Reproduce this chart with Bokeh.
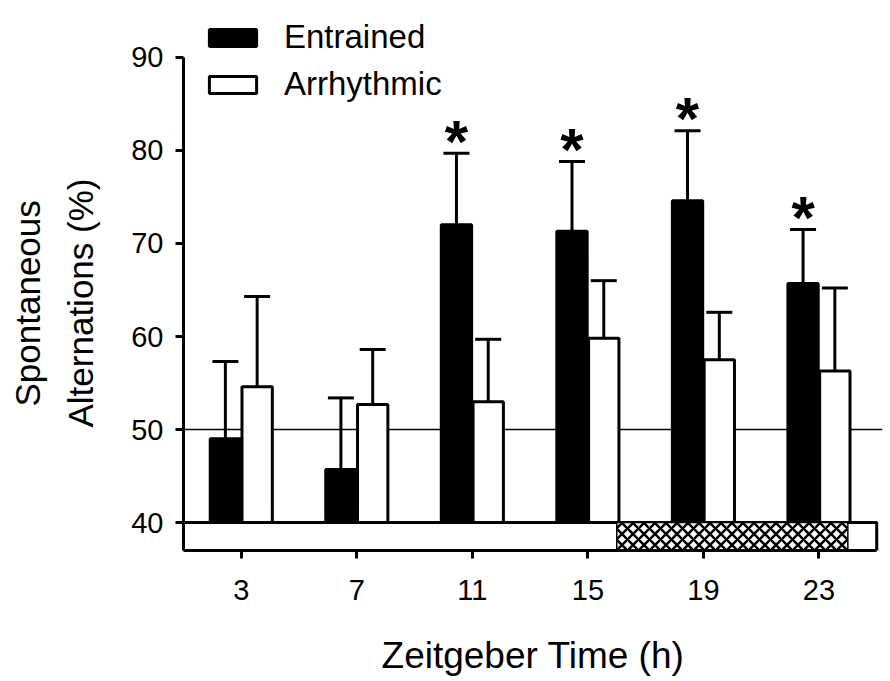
import numpy as np
from bokeh.plotting import figure
from bokeh.models import (ColumnDataSource, Whisker, Span, Legend, LegendItem,
                          FixedTicker, Range1d, TeeHead, Title)
from bokeh.embed import file_html
from bokeh.resources import INLINE
from bokeh.core.properties import value
from bokeh.transform import dodge

# ---- data ----
zt = [3, 7, 11, 15, 19, 23]
entrained = [49.0, 45.7, 72.0, 71.3, 74.6, 65.7]
entrained_err = [8.3, 7.7, 7.7, 7.5, 7.5, 5.8]
arrhythmic = [54.6, 52.7, 53.0, 59.8, 57.5, 56.3]
arrhythmic_err = [9.7, 5.9, 6.7, 6.2, 5.1, 8.9]
significant = [False, False, True, True, True, True]
y_ticks = [40, 50, 60, 70, 80, 90]
x_ticks = [3, 7, 11, 15, 19, 23]
chance_level = 50
bar_start, bar_end = 1, 25        # light/dark bar extent (h)
dark_start, dark_end = [16], [24]  # dark phase (h)
y_base = 40
y_label_lines = ["Spontaneous", "Alternations (%)"]
x_label = "Zeitgeber Time (h)"

FONT = "Liberation Sans"

src = ColumnDataSource(dict(
    zt=zt,
    ent=entrained, ent_up=[m + e for m, e in zip(entrained, entrained_err)],
    arr=arrhythmic, arr_up=[m + e for m, e in zip(arrhythmic, arrhythmic_err)],
))
sig_src = ColumnDataSource(dict(
    zt=[z for z, s in zip(zt, significant) if s],
    up=[m + e for m, e, s in zip(entrained, entrained_err, significant) if s],
    txt=["*" for s in significant if s],
))

p = figure(width=890, height=681, output_backend="svg", toolbar_location=None,
           x_range=Range1d(1, 25.2), y_range=Range1d(37, 94.5),
           min_border_left=183, min_border_right=8, min_border_top=15,
           min_border_bottom=131, outline_line_color=None,
           background_fill_color="white", border_fill_color="white")
p.grid.visible = False

# chance level line
p.add_layout(Span(location=chance_level, dimension="width", line_color="black",
                  line_width=1.5, level="underlay"))

BW = 1.05
OFF = 0.55
r_ent = p.vbar(x=dodge("zt", -OFF), top="ent", bottom=y_base, width=BW, source=src,
               fill_color="black", line_color="black", line_width=3)
r_arr = p.vbar(x=dodge("zt", OFF), top="arr", bottom=y_base, width=BW, source=src,
               fill_color="white", line_color="black", line_width=3)

for col_lo, col_hi, off in (("ent", "ent_up", -OFF), ("arr", "arr_up", OFF)):
    w = Whisker(base=dodge("zt", off), lower=col_lo, upper=col_hi, source=src,
                line_color="black", line_width=3,
                upper_head=TeeHead(size=26, line_width=3, line_color="black"),
                lower_head=None)
    p.add_layout(w)

# asterisks
p.text(x=dodge("zt", -OFF), y="up", text="txt", source=sig_src,
       text_font=value(FONT), text_font_style="bold", text_font_size="60px",
       text_align="center", text_baseline="alphabetic", y_offset=-12, text_color="black")

# light/dark bar
p.quad(left=[bar_start], right=[bar_end], bottom=[37], top=[y_base],
       fill_color="white", line_color="black", line_width=3)
p.quad(left=dark_start, right=dark_end, bottom=[37], top=[y_base],
       fill_color="white", hatch_pattern="diagonal_cross", hatch_color="black",
       hatch_weight=2.5, hatch_scale=11, line_color="black", line_width=1.5)

# axes
ya = p.yaxis[0]
ya.ticker = FixedTicker(ticks=y_ticks)
ya.bounds = (37, 90)
ya.axis_line_width = 3
ya.major_tick_line_width = 3
ya.major_tick_out = 8
ya.major_tick_in = 0
ya.minor_tick_line_color = None
ya.major_label_text_font = FONT
ya.major_label_text_font_size = "29px"
ya.major_label_text_color = "black"
ya.major_label_standoff = 12

# two-line y title as side titles (start offset measured up from the frame bottom)
p.add_layout(Title(text=y_label_lines[1], align="left", offset=123, standoff=58,
                   text_font=FONT, text_font_size="35px", text_font_style="normal",
                   text_color="black"), "left")
p.add_layout(Title(text=y_label_lines[0], align="left", offset=144, standoff=-34,
                   text_font=FONT, text_font_size="35px", text_font_style="normal",
                   text_color="black"), "left")

xa = p.xaxis[0]
xa.ticker = FixedTicker(ticks=x_ticks)
xa.bounds = (bar_start, bar_end)
xa.axis_line_width = 3
xa.major_tick_line_width = 3
xa.major_tick_out = 8
xa.major_tick_in = 0
xa.minor_tick_line_color = None
xa.major_label_text_font = FONT
xa.major_label_text_font_size = "29px"
xa.major_label_text_color = "black"
xa.major_label_standoff = 21
xa.axis_label = x_label
xa.axis_label_text_font = FONT
xa.axis_label_text_font_size = "37px"
xa.axis_label_text_font_style = "normal"
xa.axis_label_text_color = "black"
xa.axis_label_standoff = 32

legend = Legend(items=[LegendItem(label="Entrained", renderers=[r_ent]),
                       LegendItem(label="Arrhythmic", renderers=[r_arr])],
                location=(20, 447), orientation="vertical",
                glyph_width=59, glyph_height=21, label_height=21, spacing=9,
                label_standoff=22, padding=0, margin=0,
                border_line_color=None, background_fill_alpha=0,
                label_text_font=FONT, label_text_font_size="33px",
                label_text_color="black")
p.add_layout(legend)

open("out.html", "w").write(file_html(p, INLINE))
